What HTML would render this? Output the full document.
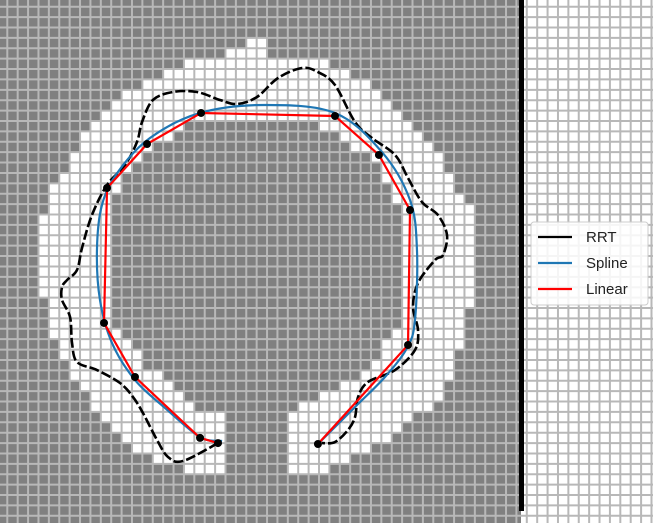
<!DOCTYPE html>
<html><head><meta charset="utf-8"><style>
html,body{margin:0;padding:0;background:#fff;}
svg{display:block;font-family:"Liberation Sans","DejaVu Sans",sans-serif;}
</style></head><body>
<svg id="chart" width="653" height="523" viewBox="0 0 653 523" xmlns="http://www.w3.org/2000/svg">
<g id="cells"></g>
<g id="gridlines"></g>
<rect x="519" y="0" width="5" height="511" fill="#000"/>
<g id="series"></g>
<g>
<rect x="531" y="222" width="117" height="83" rx="3" fill="#fff" fill-opacity="0.85" stroke="#cccccc" stroke-width="1"/>
<g><line x1="538" y1="237" x2="572" y2="237" stroke="#000" stroke-width="2.2"/><text x="586" y="242" font-size="15" fill="#222">RRT</text></g>
<g><line x1="538" y1="263" x2="572" y2="263" stroke="#1f77b4" stroke-width="2.2"/><text x="586" y="268" font-size="15" fill="#222">Spline</text></g>
<g><line x1="538" y1="289" x2="572" y2="289" stroke="#ff0000" stroke-width="2.2"/><text x="586" y="294" font-size="15" fill="#222">Linear</text></g>
</g>
</svg>
<script>
// data in grid-cell units
const rrtX=[21.28,17.91,16.47,15.41,14.06,13.10,11.85,9.63,7.71,7.23,7.04,6.27,6.27,6.75,7.71,8.19,9.15,10.60,12.33,13.48,13.97,15.02,16.95,19.26,21.47,23.11,25.03,27.06,29.37,30.90,32.54,34.47,36.10,38.32,39.57,40.91,42.45,43.32,42.94,42.17,40.53,40.05,40.53,40.24,38.32,35.72,34.76,34.47,33.79,32.54,31.29];
const rrtY=[43.0,44.73,44.34,42.70,40.11,38.57,37.22,35.97,35.20,33.37,30.87,29.23,27.98,27.31,26.34,24.23,21.05,18.16,16.24,14.02,12.10,9.98,9.21,9.21,9.98,10.37,9.69,7.86,6.90,7.29,8.54,12.10,13.64,15.27,17.49,19.80,21.05,22.97,24.90,25.38,27.59,29.90,32.12,34.04,35.97,37.12,38.57,40.49,41.74,42.90,43.0];
const splineX=[21.67,19.55,16.18,13.29,11.08,9.92,9.63,10.11,11.65,14.73,19.55,25.80,32.54,37.06,39.76,40.43,40.24,39.47,37.35,34.47,30.90];
const splineY=[42.80,42.42,39.62,36.93,33.37,29.23,24.42,20.09,16.91,13.64,11.23,10.46,11.23,14.99,19.61,24.42,31.15,33.85,36.64,39.53,43.09];
const wayX=[21.28,19.55,13.29,10.31,10.60,14.45,19.65,32.54,36.77,39.76,39.57,30.90];
const wayY=[43.0,42.5,36.64,31.44,18.45,14.22,11.23,11.52,15.27,20.57,33.56,43.09];

const S=10.39, X0=-3.1, Y0=-3.7;
function sx(v){return X0+v*S;}
function sy(v){return Y0+v*S;}
const NS='http://www.w3.org/2000/svg';

// free-space ring (map geometry, px)
const ring=[[247,40],[268,40],[268,58],[318,58],[342,68],[362,80],[382,90],[392,102],[402,112],[412,122],[422,132],[432,145],[445,162],[455,182],[465,198],[472,215],[476,250],[476,300],[466,320],[462,345],[455,365],[445,390],[420,415],[380,445],[340,465],[322,474],[290,474],[290,412],[330,390],[355,383],[380,355],[395,330],[405,300],[407,250],[402,208],[392,192],[382,175],[372,162],[355,148],[342,138],[323,128],[322,118],[197,118],[177,128],[163,142],[142,162],[132,172],[122,182],[112,202],[112,330],[122,335],[133,348],[143,362],[165,380],[190,400],[197,413],[228,413],[228,474],[195,474],[160,462],[140,452],[120,435],[100,418],[88,400],[75,380],[68,362],[55,345],[48,305],[40,300],[40,228],[50,195],[62,175],[72,155],[82,135],[102,115],[113,102],[133,90],[155,80],[177,68],[197,58],[247,50]];
function inside(x,y,p){let c=false;for(let i=0,j=p.length-1;i<p.length;j=i++){const [xi,yi]=p[i],[xj,yj]=p[j];if(((yi>y)!=(yj>y))&&(x<(xj-xi)*(y-yi)/(yj-yi)+xi))c=!c;}return c;}

const cells=document.getElementById('cells');
const bg=document.createElementNS(NS,'rect');


bg.setAttribute('x',0);bg.setAttribute('y',0);bg.setAttribute('width',521);bg.setAttribute('height',523);bg.setAttribute('fill','#808080');
cells.appendChild(bg);
let d='';
for(let r=0;r<52;r++){for(let c=0;c<51;c++){const cx=X0+(c+0.5)*S,cy=Y0+(r+0.5)*S;if(inside(cx,cy,ring)){d+=`M${(X0+c*S).toFixed(2)} ${(Y0+r*S).toFixed(2)}h${S}v${S}h${-S}z`;}}}
const free=document.createElementNS(NS,'path');


free.setAttribute('d',d);free.setAttribute('fill','#fff');
cells.appendChild(free);

const gl=document.getElementById('gridlines');
let gd='';
for(let k=0;k<64;k++){const x=7.3+k*S;gd+=`M${x.toFixed(2)} 0V523`;}
for(let k=0;k<51;k++){const y=6.7+k*S;gd+=`M0 ${y.toFixed(2)}H653`;}
const glp=document.createElementNS(NS,'path');


glp.setAttribute('d',gd);glp.setAttribute('stroke','#b8b8b8');glp.setAttribute('stroke-width','2');glp.setAttribute('fill','none');
gl.appendChild(glp);

function smooth(xs,ys){const p=xs.map((v,i)=>[sx(v),sy(ys[i])]);let s=`M${p[0][0]} ${p[0][1]}`;for(let i=0;i<p.length-1;i++){const p0=p[Math.max(0,i-1)],p1=p[i],p2=p[i+1],p3=p[Math.min(p.length-1,i+2)];const c1=[p1[0]+(p2[0]-p0[0])/6,p1[1]+(p2[1]-p0[1])/6],c2=[p2[0]-(p3[0]-p1[0])/6,p2[1]-(p3[1]-p1[1])/6];s+=`C${c1[0].toFixed(2)} ${c1[1].toFixed(2)} ${c2[0].toFixed(2)} ${c2[1].toFixed(2)} ${p2[0].toFixed(2)} ${p2[1].toFixed(2)}`;}return s;}
const ser=document.getElementById('series');
const rrt=document.createElementNS(NS,'path');


rrt.setAttribute('d',smooth(rrtX,rrtY));rrt.setAttribute('fill','none');rrt.setAttribute('stroke','#000');rrt.setAttribute('stroke-width','2.6');rrt.setAttribute('stroke-dasharray','10 3');
ser.appendChild(rrt);
const sp=document.createElementNS(NS,'path');


sp.setAttribute('d',smooth(splineX,splineY));sp.setAttribute('fill','none');sp.setAttribute('stroke','#1f77b4');sp.setAttribute('stroke-width','2.2');
ser.appendChild(sp);
const lin=document.createElementNS(NS,'polyline');


lin.setAttribute('points',wayX.map((v,i)=>sx(v).toFixed(2)+','+sy(wayY[i]).toFixed(2)).join(' '));lin.setAttribute('fill','none');lin.setAttribute('stroke','#ff0000');lin.setAttribute('stroke-width','2.2');
ser.appendChild(lin);
wayX.forEach((v,i)=>{const c=document.createElementNS(NS,'circle');


c.setAttribute('cx',sx(v));c.setAttribute('cy',sy(wayY[i]));c.setAttribute('r',4);c.setAttribute('fill','#000');ser.appendChild(c);});
</script>
</body></html>
